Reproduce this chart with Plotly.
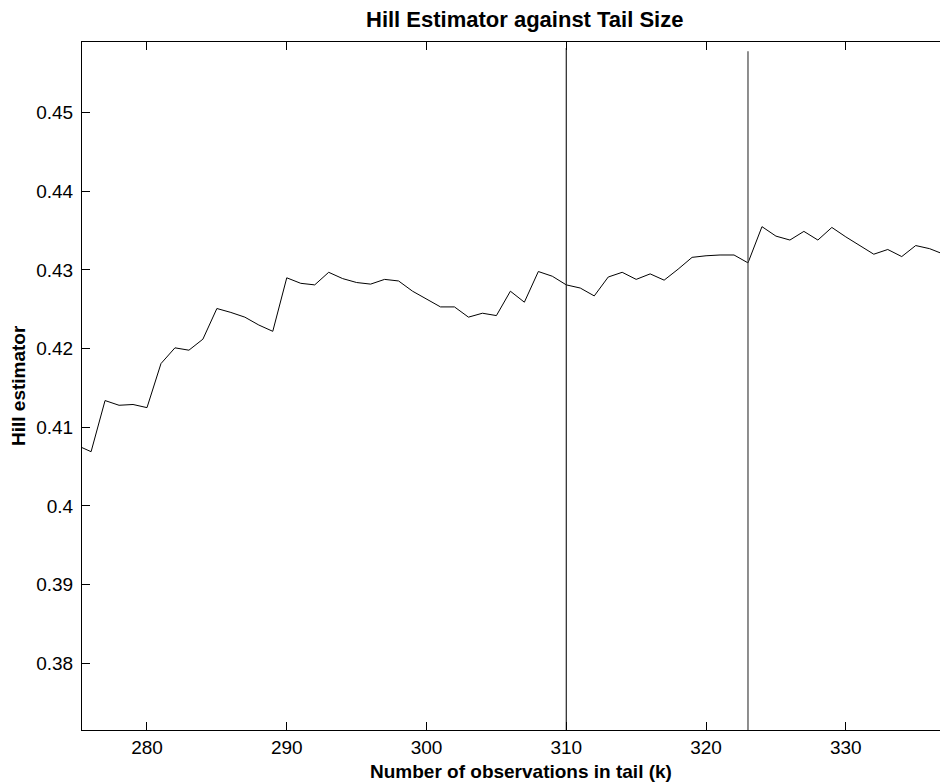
import plotly.graph_objects as go

# Data
k_values = list(range(275, 339))
hill_values = [
    0.4077, 0.4069, 0.4134, 0.4128, 0.4129, 0.4125, 0.4181, 0.4201, 0.4198, 0.4212,
    0.4251, 0.4246, 0.4240, 0.4230, 0.4222, 0.4290, 0.4283, 0.4281, 0.4297, 0.4289,
    0.4284, 0.4282, 0.4288, 0.4286, 0.4273, 0.4263, 0.4253, 0.4253, 0.4240, 0.4245,
    0.4242, 0.4273, 0.4259, 0.4298, 0.4292, 0.4281, 0.4277, 0.4267, 0.4291, 0.4297,
    0.4288, 0.4295, 0.4287, 0.4301, 0.4316, 0.4318, 0.4319, 0.4319, 0.4309, 0.4355,
    0.4343, 0.4338, 0.4349, 0.4338, 0.4354, 0.4342, 0.4331, 0.4320, 0.4326, 0.4317,
    0.4331, 0.4327, 0.4320, 0.4313,
]
marker1_x = [310, 310]
marker1_y = [0.3715, 0.4582]
marker2_x = [323, 323]
marker2_y = [0.3715, 0.4578]

x_ticks = [280, 290, 300, 310, 320, 330]
y_ticks = [0.38, 0.39, 0.40, 0.41, 0.42, 0.43, 0.44, 0.45]
y_tick_labels = ["0.38", "0.39", "0.4", "0.41", "0.42", "0.43", "0.44", "0.45"]

FONT = "Liberation Sans, Arial, Helvetica, sans-serif"

fig = go.Figure()
fig.add_trace(go.Scatter(x=k_values, y=hill_values, mode="lines",
                         line=dict(color="black", width=1), showlegend=False))
fig.add_trace(go.Scatter(x=marker1_x, y=marker1_y, mode="lines",
                         line=dict(color="#222222", width=1.2), showlegend=False))
fig.add_trace(go.Scatter(x=marker2_x, y=marker2_y, mode="lines",
                         line=dict(color="#444444", width=1.2), showlegend=False))

# page has an 8px body margin; figure coords = screen coords - 8
OFF = 8
W, H = 948 - OFF, 784 - OFF
L, R, T, B = 82 - OFF, 0, 42 - OFF, 784 - 730
pw = W - L - R
ph = H - T - B


def px_x(sx):
    return (sx - OFF - L) / pw


def px_y(sy):
    return (H - B - (sy - OFF)) / ph


fig.update_layout(
    width=W, height=H,
    margin=dict(l=L, r=R, t=T, b=B, pad=0),
    paper_bgcolor="white", plot_bgcolor="white",
    font=dict(family=FONT, size=19, color="black"),
    showlegend=False,
    xaxis=dict(range=[275.35, 337.31], tickvals=x_ticks, ticks="inside", ticklen=8,
               tickcolor="black", tickwidth=1, showline=True, linecolor="black",
               linewidth=1, mirror="ticks", showgrid=False, zeroline=False,
               tickfont=dict(family=FONT, size=19, color="black")),
    yaxis=dict(range=[0.37153, 0.45897], tickvals=y_ticks, ticktext=y_tick_labels,
               ticks="inside", ticklen=8, tickcolor="black", tickwidth=1, showline=True,
               linecolor="black", linewidth=1, mirror=False, showgrid=False,
               zeroline=False, ticklabelstandoff=4,
               tickfont=dict(family=FONT, size=19, color="black")),
    annotations=[
        dict(text="<b>Hill Estimator against Tail Size</b>", xref="paper", yref="paper",
             x=px_x(524), y=px_y(19), xanchor="center", yanchor="middle",
             showarrow=False, font=dict(family=FONT, size=22, color="black")),
        dict(text="<b>Number of observations in tail (k)</b>", xref="paper", yref="paper",
             x=px_x(521), y=px_y(771), xanchor="center", yanchor="middle",
             showarrow=False, font=dict(family=FONT, size=19, color="black")),
        dict(text="<b>Hill estimator</b>", xref="paper", yref="paper",
             x=px_x(18), y=0.5, xanchor="center", yanchor="middle", textangle=-90,
             showarrow=False, font=dict(family=FONT, size=19, color="black")),
    ],
)

fig.write_html("out.html")
